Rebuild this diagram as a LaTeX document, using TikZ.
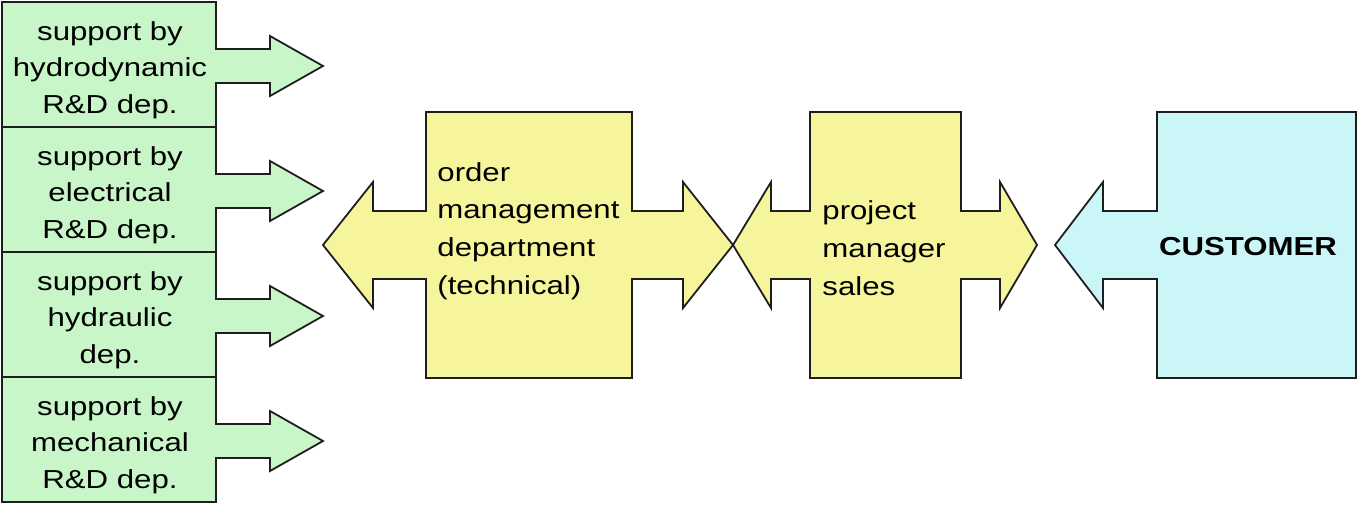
\documentclass[tikz,border=0pt]{standalone}
\usepackage{fontspec}
\usepackage{xcolor}
\usepackage{tikz}
\usetikzlibrary{positioning,calc}
\newfontfamily\diafont[FakeStretch=1.2]{Liberation Sans}
\definecolor{supgreen}{HTML}{C9F6C9}
\definecolor{deptyellow}{HTML}{F7F59C}
\definecolor{custcyan}{HTML}{CBF6F8}
\definecolor{ink}{HTML}{1E1E1E}
\tikzset{
    every picture/.style={line join=miter},
    blockshape/.style={draw=ink,line width=0.9pt},
    suplabel/.style={font=\diafont\fontsize{13}{18.2}\selectfont,
      align=center,inner sep=0pt},
    deptlabel/.style={font=\diafont\fontsize{13}{18.9}\selectfont,
      align=left,inner sep=0pt,anchor=west},
    custlabel/.style={font=\diafont\bfseries\fontsize{13}{15}\selectfont,
      inner sep=0pt}
}

\begin{document}
\begin{tikzpicture}[x=0.5pt,y=-0.5pt]
  \useasboundingbox (0,0) rectangle (1358,504);
  % support departments, each with an arrow to the right
  \foreach \ytop/\txt [count=\i] in {2/{support by\\hydrodynamic\\R\&D dep.},
      127/{support by\\electrical\\R\&D dep.},
      252/{support by\\hydraulic\\dep.},
      377/{support by\\mechanical\\R\&D dep.}}{
    \pgfmathsetmacro\ymid{\ytop+64}
    \pgfmathsetmacro\ybot{\ytop+125}
    \draw[blockshape,fill=supgreen] (2,\ytop) -- (216,\ytop) -- (216,\ymid-17)
      -- (270,\ymid-17) -- (270,\ymid-30) -- (323,\ymid) -- (270,\ymid+30)
      -- (270,\ymid+17) -- (216,\ymid+17) -- (216,\ybot) -- (2,\ybot) -- cycle;
    \node[suplabel] (sup\i) at (110,\ymid+4) {\txt};
  }
  % order management: double arrow
  \draw[blockshape,fill=deptyellow] (426,112) -- (632,112) -- (632,211)
    -- (683,211) -- (683,182) -- (733,245) -- (683,308) -- (683,279)
    -- (632,279) -- (632,378) -- (426,378) -- (426,279) -- (373,279)
    -- (373,308) -- (323,245) -- (373,182) -- (373,211) -- (426,211) -- cycle;
  \node[deptlabel] (order) at (437,231) {order\\management\\department\\(technical)};
  % project manager: double arrow
  \draw[blockshape,fill=deptyellow] (810,112) -- (961,112) -- (961,211)
    -- (1000,211) -- (1000,182) -- (1037,245) -- (1000,308) -- (1000,279)
    -- (961,279) -- (961,378) -- (810,378) -- (810,279) -- (771,279)
    -- (771,308) -- (733,245) -- (771,182) -- (771,211) -- (810,211) -- cycle;
  \node[deptlabel] (pm) at (822,248) {project\\manager\\sales};
  % customer
  \draw[blockshape,fill=custcyan] (1157,112) -- (1356,112) -- (1356,378)
    -- (1157,378) -- (1157,279) -- (1103,279) -- (1103,308) -- (1055,245)
    -- (1103,182) -- (1103,211) -- (1157,211) -- cycle;
  \node[custlabel] (cust) at (1248,247) {CUSTOMER};
\end{tikzpicture}
\end{document}
